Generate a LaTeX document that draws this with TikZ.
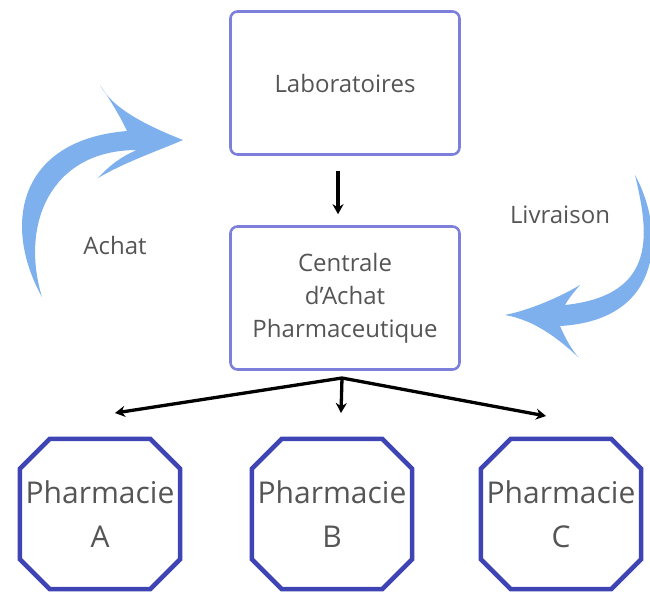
\documentclass[tikz,border=0pt]{standalone}
\usepackage{fontspec}
\setmainfont{Open Sans}
\usetikzlibrary{arrows.meta}
\definecolor{BoxEdge}{HTML}{7C80DA}
\definecolor{OctEdge}{HTML}{3F44B4}
\definecolor{SkyArrow}{HTML}{7DB0EC}
\definecolor{TextGray}{HTML}{555555}

\begin{document}
\begin{tikzpicture}[x=1pt,y=-1pt,
    box/.style={rounded corners=7pt,draw=BoxEdge,line width=2.6pt,fill=white,
    minimum width=229pt,minimum height=143pt,align=center,text=TextGray,
    font=\fontsize{24}{33}\selectfont},
    pharma/.style={minimum width=160pt,minimum height=150pt,inner sep=0pt,
    align=center,text=TextGray,font=\fontsize{30}{44}\selectfont},
    octline/.style={draw=OctEdge,line width=4.5pt,line join=miter},
    lbl/.style={text=TextGray,font=\fontsize{24}{29}\selectfont},
    arr/.style={-{Stealth[length=10pt,width=11pt]},line width=3.3pt,black},
    swoosh/.style={fill=SkyArrow,draw=none}]
    \useasboundingbox (0,0) rectangle (650,592);
    \node[box] (lab) at (345,83) {Laboratoires};
    \node[box] (cap) at (345,298) {Centrale\\d'Achat\\Pharmaceutique};
    \node[pharma] (phA) at (100,514) {Pharmacie\\A};
    \node[pharma] (phB) at (332,514) {Pharmacie\\B};
    \node[pharma] (phC) at (561,514) {Pharmacie\\C};
    \foreach \ph in {phA,phB,phC}
      \draw[octline] ([xshift=30pt]\ph.north west) -- ([xshift=-30pt]\ph.north east)
        -- ([yshift=-30pt]\ph.north east) -- ([yshift=30pt]\ph.south east)
        -- ([xshift=-30pt]\ph.south east) -- ([xshift=30pt]\ph.south west)
        -- ([yshift=30pt]\ph.south west) -- ([yshift=-30pt]\ph.north west) -- cycle;
    \node[lbl] (achat) at (115,245) {Achat};
    \node[lbl] (livr) at (560,215) {Livraison};
    \coordinate (hub) at (342,378);
    \coordinate (toA) at (115,413);
    \coordinate (toB) at (341,413);
    \coordinate (toC) at (546,416);
    \draw[arr,shorten <=15pt,shorten >=11pt] ([xshift=-7pt]lab.south) -- ([xshift=-7pt]cap.north);
    \draw[arr] (hub) -- (toA);
    \draw[arr] (hub) -- (toB);
    \draw[arr] (hub) -- (toC);
    % achat swoosh
    \fill[swoosh] (42,297) .. controls (2,225) and (18,140) .. (127,131)
      .. controls (118,112) and (108,97) .. (100,85)
      .. controls (112,108) and (145,125) .. (183,140)
      .. controls (160,150) and (125,162) .. (98,178)
      .. controls (110,165) and (122,156) .. (137,150)
      .. controls (50,150) and (20,225) .. (42,297) -- cycle;
    % livraison swoosh
    \fill[swoosh] (635,175) .. controls (665,230) and (665,320) .. (560,326)
      .. controls (565,338) and (572,350) .. (578,357)
      .. controls (560,340) and (535,320) .. (505,315)
      .. controls (530,310) and (560,297) .. (580,285)
      .. controls (574,292) and (569,298) .. (565,305)
      .. controls (660,295) and (648,230) .. (635,175) -- cycle;
\end{tikzpicture}
\end{document}
